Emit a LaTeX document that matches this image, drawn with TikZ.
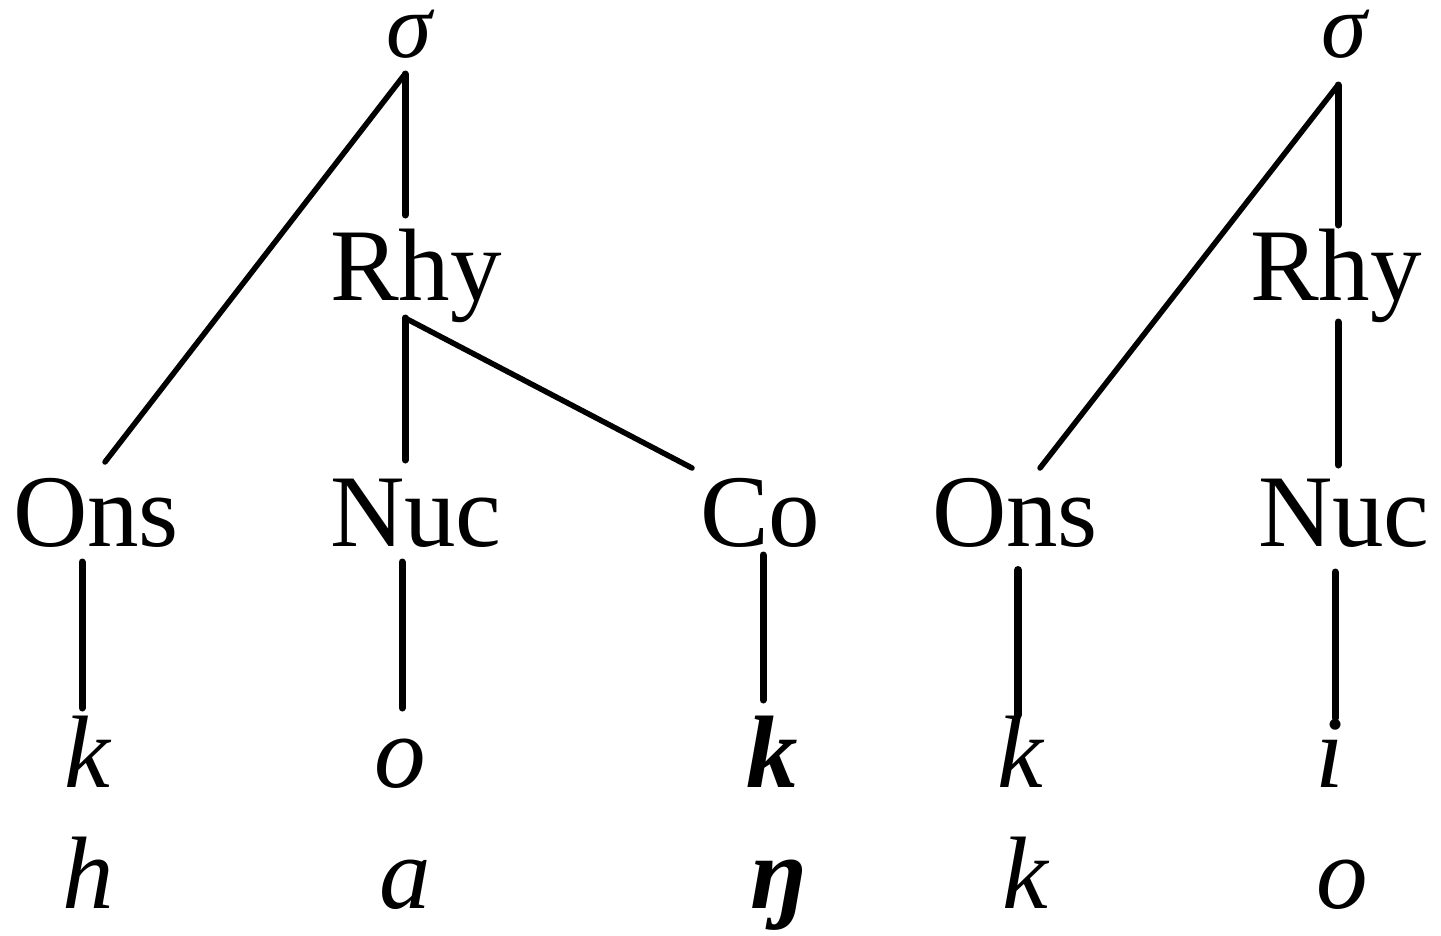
\documentclass[tikz,border=0pt]{standalone}
\usepackage{fontspec}
\setmainfont{Liberation Serif}
\begin{document}
\begin{tikzpicture}[x=1pt,y=-1pt,
  lbl/.style={inner sep=0pt,outer sep=0pt,anchor=base west,font=\fontsize{103}{110}\selectfont},
  seg/.style={inner sep=0pt,outer sep=0pt,anchor=base,font=\fontsize{103}{110}\selectfont\itshape},
  sgm/.style={inner sep=0pt,outer sep=0pt,anchor=base,font=\fontsize{92}{100}\selectfont\itshape},
  br/.style={line width=5.5pt,line cap=round},
  stem/.style={line width=7pt,line cap=round}]
\useasboundingbox (0,0) rectangle (1441,935);
% left tree
\node[sgm] (sg1) at (409,57) {σ};
\node[lbl] (rhy1) at (330,300) {Rhy};
\node[lbl] (ons1) at (13,546) {Ons};
\node[lbl] (nuc1) at (330,546) {Nuc};
\node[lbl] (co1) at (700,546) {Co};
\node[seg] (k1) at (87,787) {k};
\node[seg] (o1) at (400,787) {o};
\node[seg,font=\fontsize{103}{110}\selectfont\bfseries\itshape] (kb) at (772,787) {k};
\node[seg] (h1) at (88,908) {h};
\node[seg] (a1) at (405,908) {a};
\node[seg,font=\fontsize{103}{110}\selectfont\bfseries\itshape] (ng) at (778,908) {ŋ};
% right tree
\node[sgm] (sg2) at (1344,57) {σ};
\node[lbl] (rhy2) at (1250,300) {Rhy};
\node[lbl] (ons2) at (932,546) {Ons};
\node[lbl] (nuc2) at (1258,546) {Nuc};
\node[seg] (k2) at (1020,787) {k};
\node[seg] (i2) at (1330,787) {i};
\node[seg] (k3) at (1025,908) {k};
\node[seg] (o2) at (1342,908) {o};
% connector end points
\coordinate (sg1b) at (405,74);
\coordinate (rhy1t) at (405,215);
\coordinate (rhy1b) at (405,318);
\coordinate (ons1t) at (105,462);
\coordinate (nuc1t) at (405,460);
\coordinate (co1t) at (692,468);
\coordinate (ons1b) at (82,562);
\coordinate (k1t) at (82,708);
\coordinate (nuc1b) at (402,562);
\coordinate (o1t) at (402,708);
\coordinate (co1b) at (763,555);
\coordinate (kbt) at (763,700);
\coordinate (sg2b) at (1338,85);
\coordinate (rhy2t) at (1338,225);
\coordinate (rhy2b) at (1338,322);
\coordinate (ons2t) at (1040,468);
\coordinate (nuc2t) at (1338,465);
\coordinate (ons2b) at (1018,570);
\coordinate (k2t) at (1018,715);
\coordinate (nuc2b) at (1335,572);
\coordinate (i2t) at (1335,718);
% connectors
\draw[stem] (sg1b) -- (rhy1t);
\draw[br] (sg1b) -- (ons1t);
\draw[stem] (rhy1b) -- (nuc1t);
\draw[br] (rhy1b) -- (co1t);
\draw[stem] (ons1b) -- (k1t);
\draw[stem] (nuc1b) -- (o1t);
\draw[stem] (co1b) -- (kbt);
\draw[stem] (sg2b) -- (rhy2t);
\draw[br] (sg2b) -- (ons2t);
\draw[stem] (rhy2b) -- (nuc2t);
\draw[stem,line width=8pt] (ons2b) -- (k2t);
\draw[stem] (nuc2b) -- (i2t);
\end{tikzpicture}
\end{document}
